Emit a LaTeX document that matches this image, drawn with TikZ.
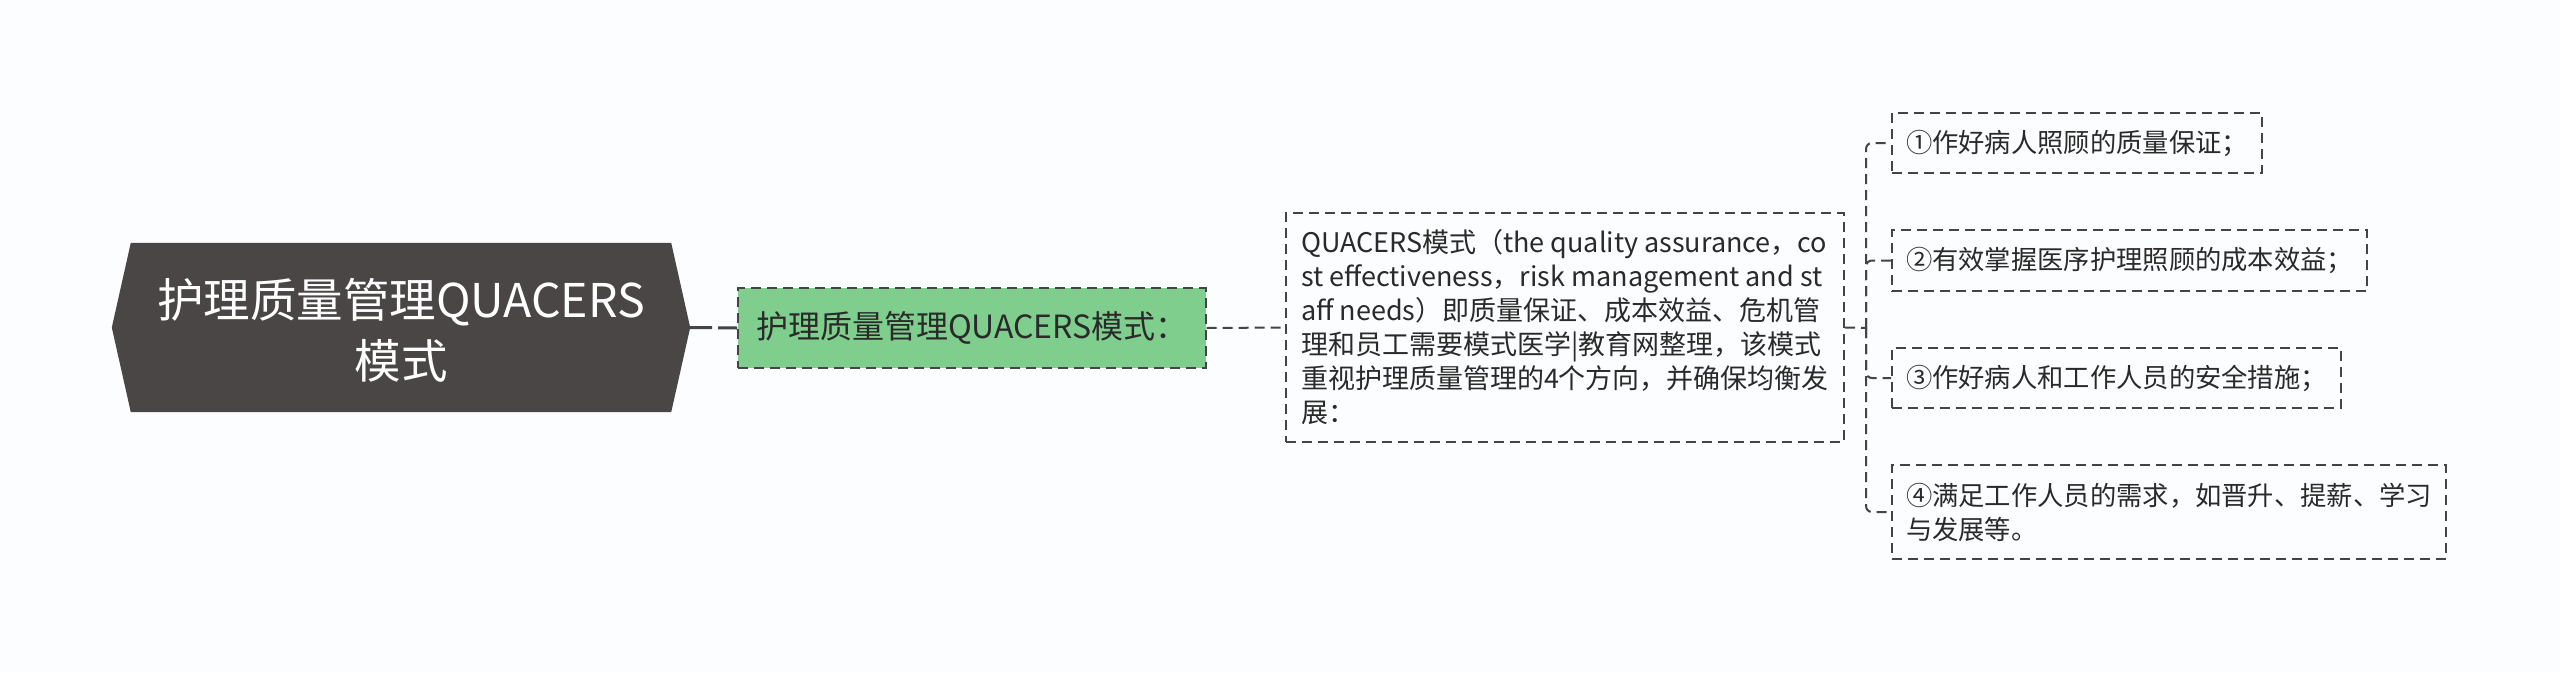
\documentclass[tikz,border=0pt]{standalone}
\usepackage{fontspec}
\setmainfont{Noto Sans CJK SC}
\definecolor{bg}{HTML}{FBFDFE}
\definecolor{rootc}{HTML}{4B4646}
\definecolor{greenc}{HTML}{80CE8E}
\definecolor{linec}{HTML}{444444}
\definecolor{txtc}{HTML}{2A2A2A}
\begin{document}
\begin{tikzpicture}[x=1pt,y=-1pt,
  conn/.style={draw=linec,line width=2pt,dash pattern=on 10pt off 6pt},
  connthick/.style={draw=linec,line width=3pt,dash pattern=on 22pt off 6pt},
  boxline/.style={draw=linec,line width=2pt,dash pattern=on 10pt off 6pt},
  leaf/.style={boxline,anchor=west,align=left,text=txtc,inner xsep=14pt,inner ysep=0pt,
    font=\fontsize{26.3}{34}\selectfont},
]
\useasboundingbox[fill=bg] (0,0) rectangle (2560,673);
% root
\node[minimum width=578pt,minimum height=169pt,inner sep=0pt] (root) at (401,327.5) {};
\fill[rootc] ([xshift=19pt]root.north west) -- ([xshift=-19pt]root.north east) -- (root.east)
  -- ([xshift=-19pt]root.south east) -- ([xshift=19pt]root.south west) -- (root.west) -- cycle;
\node[text=white,align=center,font=\fontsize{46.5}{61}\selectfont] (roottext) at (401,330) {护理质量管理QUACERS\\模式};
% green
\node[boxline,fill=greenc,anchor=west,text=txtc,minimum height=80pt,inner xsep=18pt,
  font=\fontsize{32}{38}\selectfont] (green) at (737,328) {护理质量管理QUACERS模式：};
% middle
\node[boxline,anchor=west,align=left,text=txtc,minimum height=229pt,inner xsep=15pt,
  font=\fontsize{27}{34}\selectfont] (mid) at (1285,327.5)
  {QUACERS模式（the quality assurance，co\\st effectiveness，risk management and st\\aff needs）即质量保证、成本效益、危机管\\理和员工需要模式医学|教育网整理，该模式\\重视护理质量管理的4个方向，并确保均衡发\\展：};
% leaves
\node[leaf,minimum height=60pt] (c1) at (1891,143) {①作好病人照顾的质量保证；};
\node[leaf,minimum height=61pt] (c2) at (1891,260.5) {②有效掌握医序护理照顾的成本效益；};
\node[leaf,minimum height=60pt] (c3) at (1891,378) {③作好病人和工作人员的安全措施；};
\node[leaf,minimum height=94pt] (c4) at (1891,512) {④满足工作人员的需求，如晋升、提薪、学习\\与发展等。};
% connectors
\coordinate (j) at (1866,328);
\draw[connthick] (root.east) -- (green.west);
\draw[conn] (green.east) -- (mid.west);
\draw[conn] (mid.east) -- (j);
\draw[conn,rounded corners=6pt] (j) |- (c1.west);
\draw[conn,rounded corners=6pt] (j) |- (c2.west);
\draw[conn,rounded corners=6pt] (j) |- (c3.west);
\draw[conn,rounded corners=6pt] (j) |- (c4.west);
\end{tikzpicture}
\end{document}
